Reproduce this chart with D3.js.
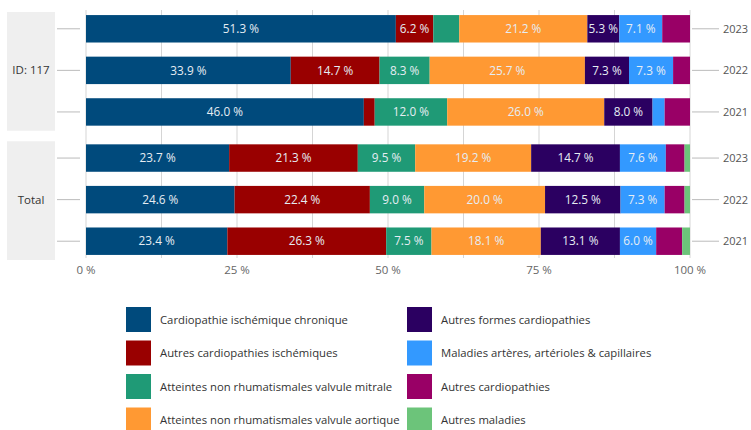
<!DOCTYPE html>
<html><head><meta charset="utf-8">
<script src="https://cdn.jsdelivr.net/npm/d3@7"></script>
<style>body{margin:0;background:#fff;} svg{display:block;font-family:"Open Sans","Noto Sans",sans-serif;}</style>
</head><body><svg id="c" width="751" height="430"></svg>
<script>
const groups = ["ID: 117", "Total"];
const years = ["2023", "2022", "2021"];
const seriesNames = [
  "Cardiopathie ischémique chronique",
  "Autres cardiopathies ischémiques",
  "Atteintes non rhumatismales valvule mitrale",
  "Atteintes non rhumatismales valvule aortique",
  "Autres formes cardiopathies",
  "Maladies artères, artérioles & capillaires",
  "Autres cardiopathies",
  "Autres maladies"
];
const colors = ["#004a7c", "#990000", "#1f9a76", "#ff9933", "#2b0061", "#3399ff", "#990066", "#6cc47a"];
// rows: ID117 2023, 2022, 2021, Total 2023, 2022, 2021
const cardioChronique = [51.3, 33.9, 46.0, 23.7, 24.6, 23.4];
const autresIschem    = [6.2, 14.7, 1.8, 21.3, 22.4, 26.3];
const mitrale         = [4.3, 8.3, 12.0, 9.5, 9.0, 7.5];
const aortique        = [21.2, 25.7, 26.0, 19.2, 20.0, 18.1];
const autresFormes    = [5.3, 7.3, 8.0, 14.7, 12.5, 13.1];
const arteres         = [7.1, 7.3, 2.0, 7.6, 7.3, 6.0];
const autresCardio    = [4.6, 2.8, 4.2, 3.1, 3.3, 4.3];
const autresMaladies  = [0.0, 0.0, 0.0, 0.9, 0.9, 1.3];
const xTicks = [0, 25, 50, 75, 100];
const gridTicks = [0, 12.5, 25, 37.5, 50, 62.5, 75, 87.5, 100];

const seriesVals = [cardioChronique, autresIschem, mitrale, aortique, autresFormes, arteres, autresCardio, autresMaladies];
const rows = [];
groups.forEach((g, gi) => years.forEach((y, yi) => {
  const i = gi * 3 + yi;
  const r = {group: g, year: y, key: g + "|" + y};
  seriesNames.forEach((s, si) => r[s] = seriesVals[si][i]);
  rows.push(r);
}));

const svg = d3.select("#c");
const x = d3.scaleLinear().domain([0, 100]).range([86, 690]);
const yOuter = d3.scaleBand().domain(groups).range([8, 262]).paddingInner(0.035);
const yInner = d3.scaleBand().domain(years).range([0, yOuter.bandwidth()]).paddingInner(0.34).paddingOuter(0.17);
const yPos = r => yOuter(r.group) + yInner(r.year);

// group boxes
svg.append("g").selectAll("rect").data(groups).join("rect")
  .attr("x", 7).attr("width", 48)
  .attr("y", g => yOuter(g) + 4).attr("height", yOuter.bandwidth() - 6)
  .attr("fill", "#efefef");
svg.append("g").selectAll("text").data(groups).join("text")
  .attr("x", 31).attr("y", g => yOuter(g) + yOuter.bandwidth() / 2 + 1)
  .attr("text-anchor", "middle").attr("dominant-baseline", "middle")
  .attr("font-size", 11.5).attr("fill", "#333").text(g => g);

// grid
svg.append("g").selectAll("line").data(gridTicks).join("line")
  .attr("x1", d => x(d)).attr("x2", d => x(d))
  .attr("y1", 10).attr("y2", 258)
  .attr("stroke", "#d5d5d5").attr("stroke-width", 1);

// left / right row tick lines
svg.append("g").selectAll("line").data(rows).join("line")
  .attr("x1", 57).attr("x2", 80)
  .attr("y1", r => yPos(r) + yInner.bandwidth() / 2).attr("y2", r => yPos(r) + yInner.bandwidth() / 2)
  .attr("stroke", "#bbb");
svg.append("g").selectAll("line").data(rows).join("line")
  .attr("x1", 692).attr("x2", 719)
  .attr("y1", r => yPos(r) + yInner.bandwidth() / 2).attr("y2", r => yPos(r) + yInner.bandwidth() / 2)
  .attr("stroke", "#bbb");
svg.append("g").selectAll("text").data(rows).join("text")
  .attr("x", 723).attr("y", r => yPos(r) + yInner.bandwidth() / 2 + 1)
  .attr("dominant-baseline", "middle").attr("font-size", 11).attr("fill", "#555")
  .text(r => r.year);

// stacked bars
const stack = d3.stack().keys(seriesNames)(rows);
const layer = svg.append("g").selectAll("g").data(stack).join("g")
  .attr("fill", (d, i) => colors[i]);
layer.selectAll("rect").data(d => d.map(p => ({p, key: d.key}))).join("rect")
  .attr("x", d => x(d.p[0])).attr("width", d => Math.max(0, x(d.p[1]) - x(d.p[0])))
  .attr("y", d => yPos(d.p.data)).attr("height", yInner.bandwidth());
layer.selectAll("text").data(d => d.map(p => ({p, key: d.key})).filter(d => d.p[1] - d.p[0] >= 5)).join("text")
  .attr("x", d => (x(d.p[0]) + x(d.p[1])) / 2)
  .attr("y", d => yPos(d.p.data) + yInner.bandwidth() / 2 + 1)
  .attr("text-anchor", "middle").attr("dominant-baseline", "middle")
  .attr("font-size", 11.8).attr("fill", "#e6edf3")
  .text(d => (d.p[1] - d.p[0]).toFixed(1) + " %");

// x axis labels
svg.append("g").selectAll("text").data(xTicks).join("text")
  .attr("x", d => x(d)).attr("y", 271)
  .attr("text-anchor", "middle").attr("dominant-baseline", "middle")
  .attr("font-size", 11.5).attr("fill", "#666").text(d => d + " %");

// legend
const leg = svg.append("g").selectAll("g").data(seriesNames).join("g")
  .attr("transform", (d, i) => `translate(${i < 4 ? 126 : 407},${307 + (i % 4) * 33.5})`);
leg.append("rect").attr("width", 25).attr("height", 25).attr("fill", (d, i) => colors[i]);
leg.append("text").attr("x", 34).attr("y", 13.5).attr("dominant-baseline", "middle")
  .attr("font-size", 11.3).attr("fill", "#333").text(d => d);
</script>
</body></html>
